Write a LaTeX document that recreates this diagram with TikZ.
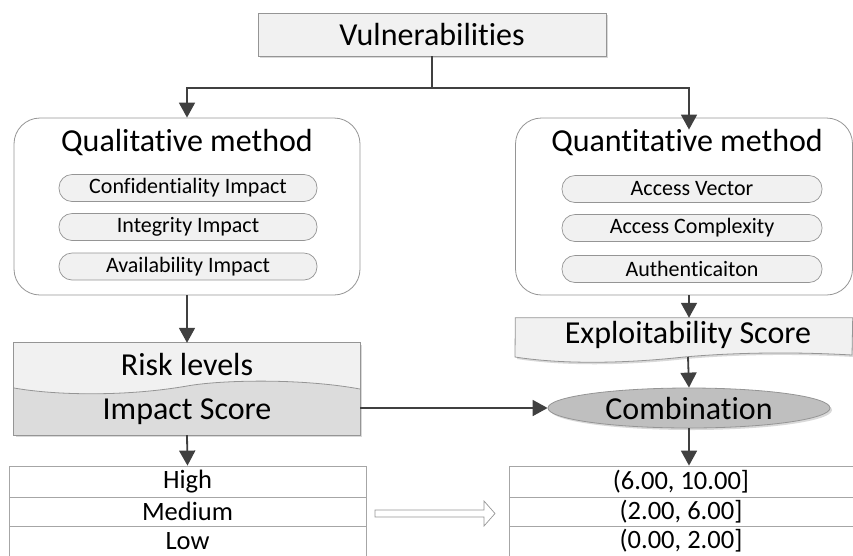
\documentclass[tikz,border=0pt]{standalone}
\usepackage{fontspec}
\setmainfont{Carlito}[Ligatures={NoCommon,NoRequired},Contextuals=NoAlternate]
\usetikzlibrary{arrows.meta,shapes.geometric,shadows}

\definecolor{linedark}{HTML}{404040}
\definecolor{boxedge}{HTML}{959595}
\definecolor{boxfill}{HTML}{F1F1F1}
\definecolor{boxfilldark}{HTML}{DCDCDC}
\definecolor{ovalfill}{HTML}{BFBFBF}
\definecolor{tableedge}{HTML}{A6A6A6}

\newcommand{\bigtxt}{\fontsize{32}{38}\selectfont}
\newcommand{\midtxt}{\fontsize{26.5}{30}\selectfont}
\newcommand{\smalltxt}{\fontsize{22}{25}\selectfont}

\begin{document}
\begin{tikzpicture}[x=1pt,y=-1pt,
  conn/.style={draw=linedark,line width=1.8pt},
  arr/.style={conn,-{Triangle[length=15pt,width=16pt]}},
  softshadow/.style={drop shadow={shadow xshift=2pt,shadow yshift=-2pt,opacity=0.25,fill=black!60}},
  titlebox/.style={draw=boxedge,fill=boxfill,line width=0.8pt,minimum width=348pt,minimum height=43pt,inner sep=0pt,softshadow,font=\bigtxt},
  methodbox/.style={draw=boxedge,fill=white,line width=0.8pt,rounded corners=26pt,minimum height=177pt,inner sep=0pt},
  pill/.style={draw=boxedge,fill=boxfill,line width=0.7pt,rounded corners=13pt,minimum height=27pt,inner sep=0pt,font=\smalltxt},
  plain/.style={inner sep=0pt},
  tablerow/.style={draw=tableedge,line width=0.8pt,inner sep=0pt,font=\midtxt}
]
\useasboundingbox (0,0) rectangle (853,555);

% top node
\node[titlebox] (vuln) at (432,34.5) {Vulnerabilities};

% the two method panels
\node[methodbox,minimum width=346pt] (qual) at (187,206.5) {};
\node[plain,font=\bigtxt] (qualtitle) at (187,143) {Qualitative method};
\node[pill,minimum width=258pt] (ci) at (188,188) {Confidentiality Impact};
\node[pill,minimum width=258pt] (ii) at (188,227) {Integrity Impact};
\node[pill,minimum width=258pt] (ai) at (188,266.5) {Availability Impact};

\node[methodbox,minimum width=337pt] (quant) at (684,206.5) {};
\node[plain,font=\bigtxt] (quanttitle) at (687,143) {Quantitative method};
\node[pill,minimum width=260pt] (av) at (692,189) {Access Vector};
\node[pill,minimum width=260pt] (ac) at (692,228) {Access Complexity};
\node[pill,minimum width=260pt] (au) at (692,269) {Authenticaiton};

% risk levels / impact score panel with wavy divider
\node[fill=boxfilldark,minimum width=346pt,minimum height=92pt,inner sep=0pt,softshadow] (risk) at (187,389) {};
\fill[boxfill] (risk.north west) -- (risk.north east) -- (360,389)
  .. controls (300,378) and (220,380) .. (187,386)
  .. controls (130,396) and (60,396) .. (14,388) -- cycle;
\draw[boxedge,line width=0.8pt] (14,388) .. controls (60,396) and (130,396) .. (187,386)
  .. controls (220,380) and (300,378) .. (360,389);
\draw[boxedge,line width=0.8pt] (risk.north west) rectangle (risk.south east);
\node[plain,font=\bigtxt] (risktxt) at (187,364) {Risk levels};
\node[plain,font=\bigtxt] (impact) at (187,412) {Impact Score};

% exploitability score document shape
\node[plain,minimum width=337pt,minimum height=40pt] (expl) at (684,338) {};
\filldraw[draw=boxedge,fill=boxfill,line width=0.8pt,softshadow] (expl.north west) -- (expl.north east) -- (852,355)
  .. controls (800,352) and (740,352) .. (684,357)
  .. controls (620,364) and (560,364) .. (515,357) -- cycle;
\node[plain,font=\bigtxt] (expltxt) at (688,335) {Exploitability Score};

% combination oval
\node[ellipse,draw=boxedge,fill=ovalfill,line width=0.8pt,minimum width=282pt,minimum height=40pt,inner sep=0pt,softshadow,font=\bigtxt] (comb) at (689,408) {Combination};

% result tables
\node[tablerow,minimum width=357pt,minimum height=31pt] (high) at (187.5,481.5) {High};
\node[tablerow,minimum width=357pt,minimum height=29pt] (medium) at (187.5,511.5) {Medium};
\node[tablerow,minimum width=357pt,minimum height=30pt] (low) at (187.5,541) {Low};
\node[tablerow,minimum width=344pt,minimum height=31pt] (rhigh) at (681,481.5) {(6.00, 10.00]};
\node[tablerow,minimum width=344pt,minimum height=29pt] (rmed) at (681,511.5) {(2.00, 6.00]};
\node[tablerow,minimum width=344pt,minimum height=30pt] (rlow) at (681,541) {(0.00, 2.00]};

% connectors
\coordinate (split) at (432,88);
\draw[conn] (vuln.south) -- (split);
\draw[arr] (split) -| (qual.north);
\draw[arr] (split) -| (quanttitle.north -| comb.north);
\draw[arr] (qual.south) -- (risk.north);
\draw[arr] (quant.south -| comb.north) -- (expl.north -| comb.north);
\draw[arr] (688,357) -- (comb.north);
\draw[arr] (risk.east |- comb.west) -- (comb.west);
\draw[arr] (risk.south) -- (high.north);
\draw[arr] (comb.south) -- (rhigh.north -| comb.south);

% hollow arrow between the tables
\draw[boxedge,fill=white,line width=0.7pt] (375,510) -- (484,510) -- (484,501) -- (495,513.5) -- (484,526) -- (484,517) -- (375,517) -- cycle;
\end{tikzpicture}
\end{document}
